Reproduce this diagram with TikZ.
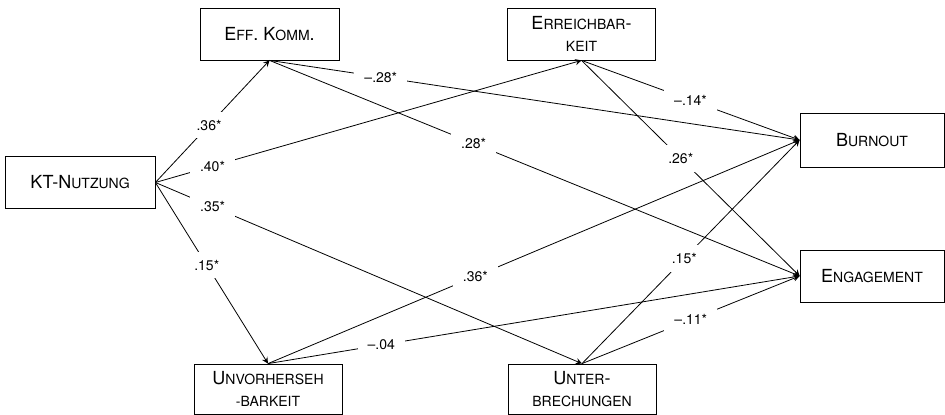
\documentclass[tikz,border=0pt]{standalone}
\usepackage{fontspec}
\setmainfont{TeX Gyre Heros}
\usetikzlibrary{arrows}
% fake small caps for the variable names
\newcommand{\kap}[1]{{\fontsize{7}{11}\selectfont #1}}

\begin{document}
\begin{tikzpicture}[x=0.5pt, y=-0.5pt]
\tikzset{
  base/.style={draw, align=center, inner sep=0pt, font=\fontsize{9}{11}\selectfont},
  var/.style={base, minimum width=74pt, minimum height=26pt},
  coef/.style={fill=white, inner xsep=5pt, inner ysep=4pt, font=\fontsize{7}{8}\selectfont},
}

\useasboundingbox (0,0) rectangle (945,415);

\node [var, minimum width=75pt] (kt) at (80, 182.5) {KT-N\kap{UTZUNG}};
\node [var, minimum width=69.5pt] (eff) at (269.5, 34) {E\kap{FF}. K\kap{OMM}.};
\node [var] (err) at (581.5, 34) {E\kap{RREICHBAR}-\\\kap{KEIT}};
\node [var, minimum width=72pt, minimum height=27pt] (bo) at (872, 140) {B\kap{URNOUT}};
\node [var, minimum width=72pt] (eng) at (872, 276) {E\kap{NGAGEMENT}};
\node [var, minimum height=25pt] (unv) at (268, 389) {U\kap{NVORHERSEH}\\\kap{-BARKEIT}};
\node [var, minimum height=25pt] (unt) at (582, 389) {U\kap{NTER}-\\\kap{BRECHUNGEN}};

%\node[var] (ctrl) at (80, 300) {};

\draw[->, >=stealth] (kt.east) -- (eff.south) node [coef, pos=0.47] {.36*};
\draw[->, >=stealth] (kt.east) -- (err.south) node [coef, pos=0.134] {.40*};
\draw[->, >=stealth] (kt.east) -- (unt.north) node [coef, pos=0.134] {.35*};
\draw[->, >=stealth] (kt.east) -- (unv.north) node [coef, pos=0.456] {.15*};

\draw[->, >=stealth] (eff.south) -- (bo.west) node [coef, pos=0.21] {--.28*};
\draw[->, >=stealth] (eff.south) -- (eng.west) node [coef, pos=0.385] {.28*};
\draw[->, >=stealth] (err.south) -- (bo.west) node [coef, pos=0.5] {--.14*};
\draw[->, >=stealth] (err.south) -- (eng.west) node [coef, pos=0.455] {.26*};

\draw[->, >=stealth] (unv.north) -- (bo.west) node [coef, pos=0.39] {.36*};
\draw[->, >=stealth] (unv.north) -- (eng.west) node [coef, pos=0.213] {--.04};
\draw[->, >=stealth] (unt.north) -- (bo.west) node [coef, pos=0.47] {.15*};
\draw[->, >=stealth] (unt.north) -- (eng.west) node [coef, pos=0.5] {--.11*};
\end{tikzpicture}
\end{document}
